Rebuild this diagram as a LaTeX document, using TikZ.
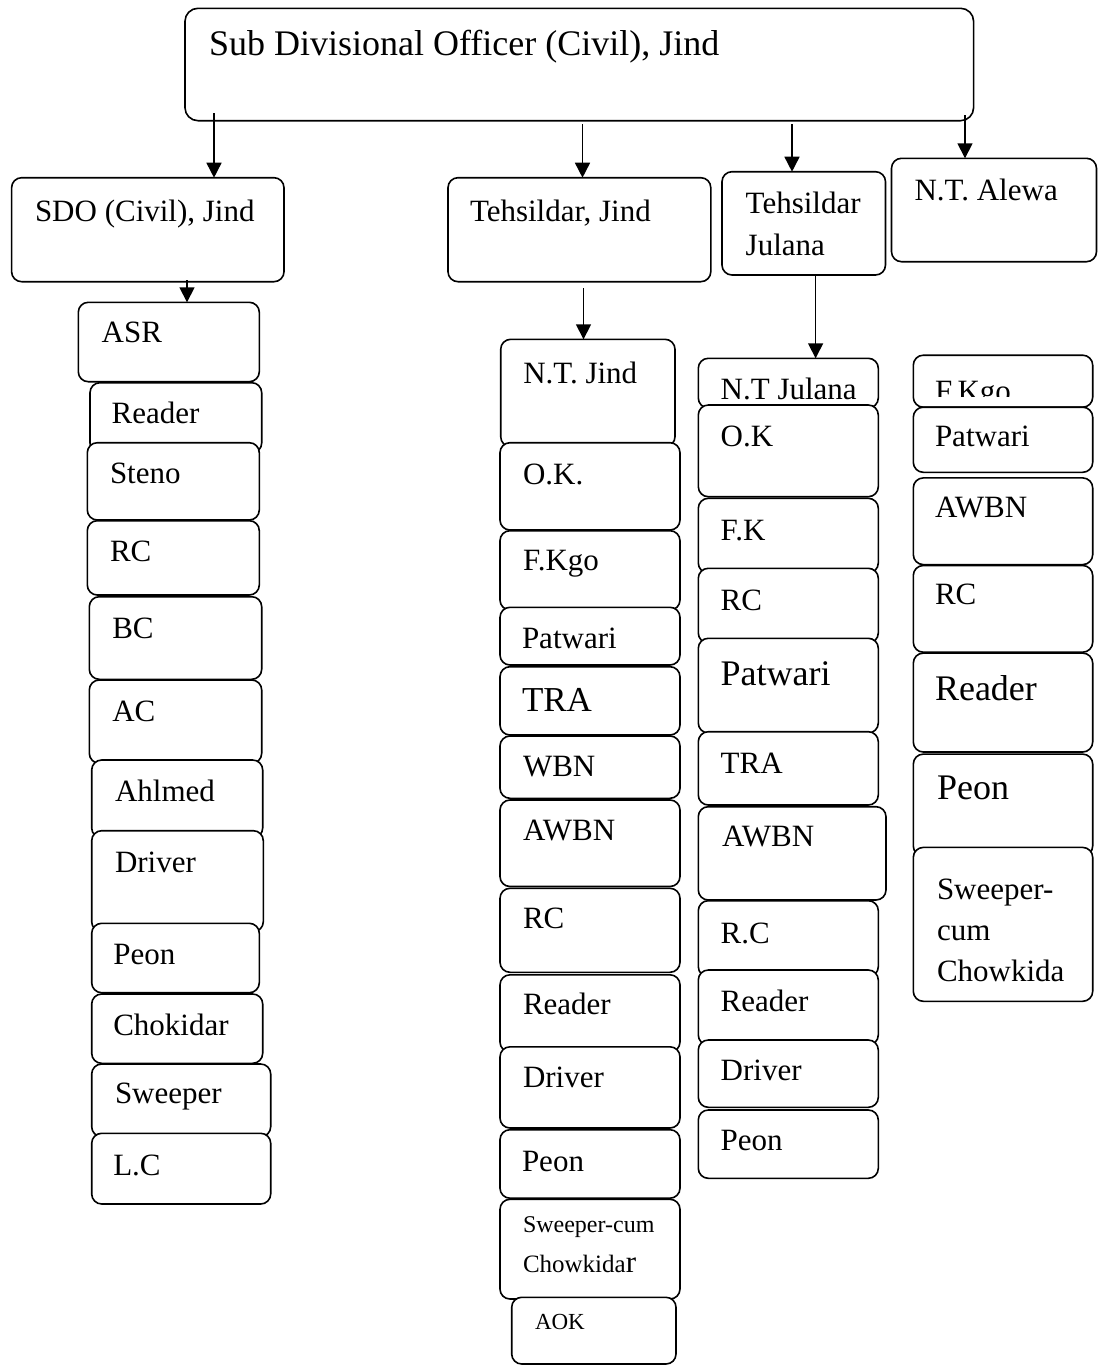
\documentclass[tikz,border=0pt]{standalone}
\usepackage{fontspec}
\setmainfont{Liberation Serif}
\usetikzlibrary{arrows.meta}
\newcommand\fs[1]{\fontsize{#1}{#1}\selectfont}
\tikzset{
 box/.style={draw=black, fill=white, line width=1.6pt, rounded corners=10pt, inner sep=0pt, outer sep=0pt},
 lbl/.style={inner sep=0pt, outer sep=0pt, font=\fs{31}},
 arr/.style={line width=1.6pt, -{Triangle[length=15pt,width=15pt]}}
}
\newcommand\bx[8]{%
 \node[box, anchor=north west, minimum width={(#4-#2)*1pt}, minimum height={(#5-#3)*1pt}] (#1) at (#2,#3) {};
 \node[lbl, anchor=base west] (#1t) at (#6,#7) {#8};}
\newcommand\tl[4]{\node[lbl, anchor=base west] (#1) at (#2,#3) {#4};}
\begin{document}
\begin{tikzpicture}[x=1pt,y=-1pt]
\path[use as bounding box, fill=white] (0,0) rectangle (1098,1365);
% top
\node[box, rounded corners=13pt, anchor=north west, minimum width={(973.6-185)*1pt}, minimum height={(120.7-8.3)*1pt}] (title) at (185,8.3) {};
\tl{titlet}{209}{55}{\fs{36}Sub Divisional Officer (Civil), Jind}
\bx{sdo}{11.6}{177.7}{284}{281.7}{35}{221.7}{SDO (Civil), Jind}
\bx{tj}{448}{177.7}{710.8}{281.7}{470}{221.7}{Tehsildar, Jind}
\bx{tju}{722}{171.7}{885.5}{275}{745.7}{213}{Tehsildar}
\tl{tjut2}{745.7}{255}{Julana}
\bx{nta}{891.5}{158.3}{1096.5}{261.7}{914.6}{200}{N.T. Alewa}
% arrows from title
\coordinate (s1) at (214,113);
\coordinate (s2) at (582.5,124);
\coordinate (s3) at (792,124);
\coordinate (s4) at (965,115);
\draw[arr] (s1) -- (s1 |- sdo.north);
\draw[arr] (s2) -- (s2 |- tj.north);
\draw[arr] (s3) -- (s3 |- tju.north);
\draw[arr] (s4) -- (s4 |- nta.north);
% left column
\bx{asr}{78.3}{302.3}{259.3}{381.7}{101.7}{342.7}{ASR}
\bx{lreader}{90}{382.7}{261.7}{453}{111.7}{423.3}{Reader}
\bx{steno}{87.3}{442.7}{259.3}{520}{110}{483.3}{Steno}
\bx{lrc}{87.3}{520.7}{259.3}{595}{110}{561.7}{RC}
\bx{bc}{89.3}{596.7}{261.7}{679.3}{112.3}{638.3}{BC}
\bx{ac}{89.3}{680}{261.7}{763.3}{112.3}{721.7}{AC}
\bx{ahl}{91.7}{760}{262.7}{838}{115}{801.7}{Ahlmed}
\bx{ldriver}{91.7}{830.7}{263.3}{931.7}{115}{872.7}{Driver}
\bx{lpeon}{91.7}{923.3}{259.3}{992.7}{113.3}{964}{Peon}
\bx{chok}{91.7}{994}{262.7}{1063.3}{113.3}{1035}{Chokidar}
\bx{sweep}{91.7}{1064}{270.7}{1136.7}{115}{1103.3}{Sweeper}
\bx{lc}{91.7}{1133.3}{270.7}{1204}{113.3}{1175}{L.C}
\coordinate (s5) at (187,280);
\draw[arr] (s5) -- (s5 |- asr.north);
% Jind column
\bx{ntj}{500.7}{339.3}{675}{446.7}{523.3}{383.3}{N.T. Jind}
\bx{jok}{500}{442.7}{680}{530}{523}{484.3}{O.K.}
\bx{jfk}{500}{530.7}{680}{610}{523}{570}{F.Kgo}
\bx{jpat}{500}{607.3}{680}{665}{522}{648.3}{Patwari}
\bx{jtra}{500}{666.7}{680}{735}{522}{711.7}{\fs{35}TRA}
\bx{jwbn}{500}{736}{680}{798.3}{523}{776.7}{WBN}
\bx{jawbn}{500}{800}{680}{886.5}{523}{840}{AWBN}
\bx{jrc}{500}{888.3}{680}{972.3}{523}{928}{RC}
\bx{jreader}{500}{974.8}{680}{1052}{523}{1014.4}{Reader}
\bx{jdriver}{500}{1046.8}{680}{1128}{523}{1087.6}{Driver}
\bx{jpeon}{500}{1129.7}{680}{1198.2}{522}{1171.2}{Peon}
\bx{jsw}{500}{1199.3}{680}{1299}{523}{1232.4}{\fs{24}Sweeper-cum}
\tl{jsw2}{523}{1272}{\fs{25}Chowkida{\fs{31}r}}
\bx{aok}{511.7}{1297.3}{676}{1364}{535}{1329.7}{\fs{23}AOK}
\coordinate (s6) at (583.5,288);
\draw[arr] (s6) -- (s6 |- ntj.north);
% Julana column
\bx{ntju}{698.3}{358.3}{878.3}{408}{720.7}{399.3}{N.T Julana}
\bx{uok}{698.3}{405}{878.3}{496.7}{720.7}{446.7}{O.K}
\bx{ufk}{698.3}{498.3}{878.3}{573}{720.7}{540}{F.K}
\bx{urc}{698.3}{568.3}{878.3}{643}{720.7}{610}{RC}
\bx{upat}{698.3}{638.3}{878.3}{733}{720.7}{685}{\fs{36}Patwari}
\bx{utra}{698.3}{731.7}{878.3}{805}{720.7}{773.3}{TRA}
\bx{uawbn}{698.3}{806.7}{886}{900}{722}{846.7}{AWBN}
\bx{urc2}{698.3}{900.7}{878.3}{976.7}{720.7}{943.3}{R.C}
\bx{ureader}{698.3}{970}{878.3}{1045}{720.7}{1011.7}{Reader}
\bx{udriver}{698.3}{1040}{878.3}{1107.3}{720.7}{1080}{Driver}
\bx{upeon}{698.3}{1110}{878.3}{1178.3}{720.7}{1150}{Peon}
\coordinate (s7) at (815.6,275);
\draw[arr] (s7) -- (s7 |- ntju.north);
% Alewa column
\node[box, anchor=north west, minimum width={(1092.7-913.3)*1pt}, minimum height={(407.2-355.2)*1pt}] (af) at (913.3,355.2) {};
\begin{scope}
\clip (913.3,355.2) rectangle (1092.7,396);
\tl{aft}{935}{401}{F.Kgo}
\end{scope}
\bx{apat}{913.3}{407.2}{1092.7}{472.3}{935}{446.2}{Patwari}
\bx{aawbn}{913.3}{477.9}{1092.7}{564.6}{935}{517.8}{AWBN}
\bx{arc}{913.3}{565.5}{1092.7}{652.2}{935}{604.5}{RC}
\bx{areader}{913.3}{653.1}{1092.7}{752}{935}{700.8}{\fs{36}Reader}
\bx{apeon}{913.3}{754.1}{1092.7}{856}{937}{799.7}{\fs{36}Peon}
\bx{asw}{913.3}{847.4}{1092.7}{1001.3}{937}{899.4}{Sweeper-}
\tl{asw2}{937}{940.6}{cum}
\tl{asw3}{937}{981.8}{Chowkida}
\end{tikzpicture}
\end{document}
